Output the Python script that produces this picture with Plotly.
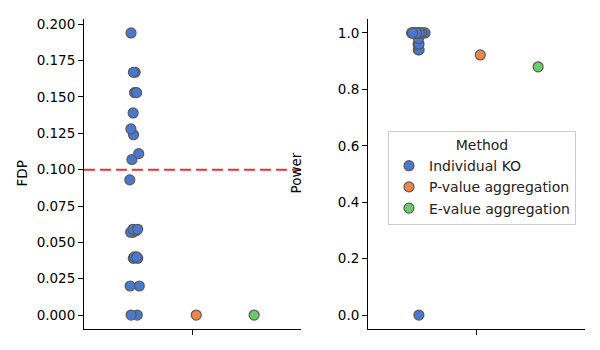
import plotly.graph_objects as go

# ---------------- data ----------------
methods = ["Individual KO", "P-value aggregation", "E-value aggregation"]
colors = ["#4878d0", "#ee854a", "#6acc64"]

fdp_individual = [0.194, 0.167, 0.167, 0.153, 0.153, 0.139, 0.128, 0.124,
                  0.111, 0.107, 0.093, 0.059, 0.059, 0.058, 0.057, 0.057,
                  0.040, 0.040, 0.039, 0.039, 0.020, 0.020, 0.0, 0.0]
fdp_pvalue = [0.0]
fdp_evalue = [0.0]

power_individual = [1.0, 1.0, 1.0, 1.0, 1.0, 1.0, 1.0, 1.0, 1.0, 1.0, 1.0,
                    1.0, 1.0, 1.0, 1.0, 1.0, 1.0, 0.98, 0.96, 0.96, 0.96,
                    0.94, 0.94, 0.0]
power_pvalue = [0.922]
power_evalue = [0.880]

fdr_target = 0.1
fdp_ticks = [0.0, 0.025, 0.05, 0.075, 0.1, 0.125, 0.15, 0.175, 0.2]
power_ticks = [0.0, 0.2, 0.4, 0.6, 0.8, 1.0]

fdp_series = [fdp_individual, fdp_pvalue, fdp_evalue]
power_series = [power_individual, power_pvalue, power_evalue]

# ---------------- figure ----------------
FONT = "DejaVu Sans"
EDGE = "#5a5a5a"
fig = go.Figure()

def add_strip(values, color, xa, ya, group):
    fig.add_trace(go.Box(
        x=["m"] * len(values), y=values,
        boxpoints="all", jitter=0.25, pointpos=0,
        line=dict(width=0, color="rgba(0,0,0,0)"),
        fillcolor="rgba(0,0,0,0)",
        marker=dict(color=color, size=10, line=dict(color=EDGE, width=1.2)),
        offsetgroup=group, showlegend=False, hoveron="points",
        xaxis=xa, yaxis=ya,
    ))

for i, (vals, c) in enumerate(zip(fdp_series, colors)):
    add_strip(vals, c, "x", "y", str(i))
for i, (vals, c) in enumerate(zip(power_series, colors)):
    add_strip(vals, c, "x2", "y2", str(i))

# legend entries
for m, c in zip(methods, colors):
    fig.add_trace(go.Scatter(
        x=[None], y=[None], mode="markers", name=m,
        marker=dict(color=c, size=10, line=dict(color=EDGE, width=1.2)),
        xaxis="x2", yaxis="y2",
    ))

# threshold line
fig.add_shape(type="line", xref="x domain", yref="y", x0=0, x1=1,
              y0=fdr_target, y1=fdr_target,
              line=dict(color="#e03535", width=2, dash="11px,5px"))

axis_common = dict(showline=True, linecolor="black", linewidth=1,
                   ticks="outside", ticklen=5, tickwidth=1, tickcolor="black",
                   showgrid=False, zeroline=False,
                   tickfont=dict(family=FONT, size=13.5, color="black"))

y_top = 1 - 16 / 350
y_bot = 1 - 329 / 350

fig.update_layout(
    width=600, height=350,
    margin=dict(l=0, r=0, t=0, b=0),
    paper_bgcolor="white", plot_bgcolor="white",
    boxmode="group", boxgap=0.2, boxgroupgap=0,
    font=dict(family=FONT, size=13.5, color="black"),
    xaxis=dict(domain=[84 / 600, 301 / 600], type="category",
               range=[-0.5, 0.5], showticklabels=False, anchor="y",
               **axis_common),
    yaxis=dict(domain=[y_bot, y_top], range=[-0.0097, 0.2037],
               tickvals=fdp_ticks, tickformat=".3f", anchor="x",
               **axis_common),
    xaxis2=dict(domain=[368 / 600, 585 / 600], type="category",
                range=[-0.5, 0.5], showticklabels=False, anchor="y2",
                **axis_common),
    yaxis2=dict(domain=[y_bot, y_top], range=[-0.05, 1.05],
                tickvals=power_ticks, tickformat=".1f", anchor="x2",
                **axis_common),
    showlegend=True,
    legend=dict(x=388 / 600, y=1 - 129 / 350, xanchor="left", yanchor="top",
                bgcolor="rgba(255,255,255,0.8)", bordercolor="#cccccc",
                borderwidth=1, font=dict(family=FONT, size=14, color="#222"),
                title=dict(text="Method", side="top center",
                           font=dict(family=FONT, size=14, color="#222")),
                itemclick=False),
    annotations=[
        dict(text="FDP", x=22 / 600, y=1 - 172 / 350, xref="paper",
             yref="paper", textangle=-90, showarrow=False,
             xanchor="center", yanchor="middle",
             font=dict(family=FONT, size=13.5, color="black")),
        dict(text="Power", x=296 / 600, y=1 - 172 / 350, xref="paper",
             yref="paper", textangle=-90, showarrow=False,
             xanchor="center", yanchor="middle",
             font=dict(family=FONT, size=13.5, color="black")),
    ],
)

fig.write_html("out.html")
